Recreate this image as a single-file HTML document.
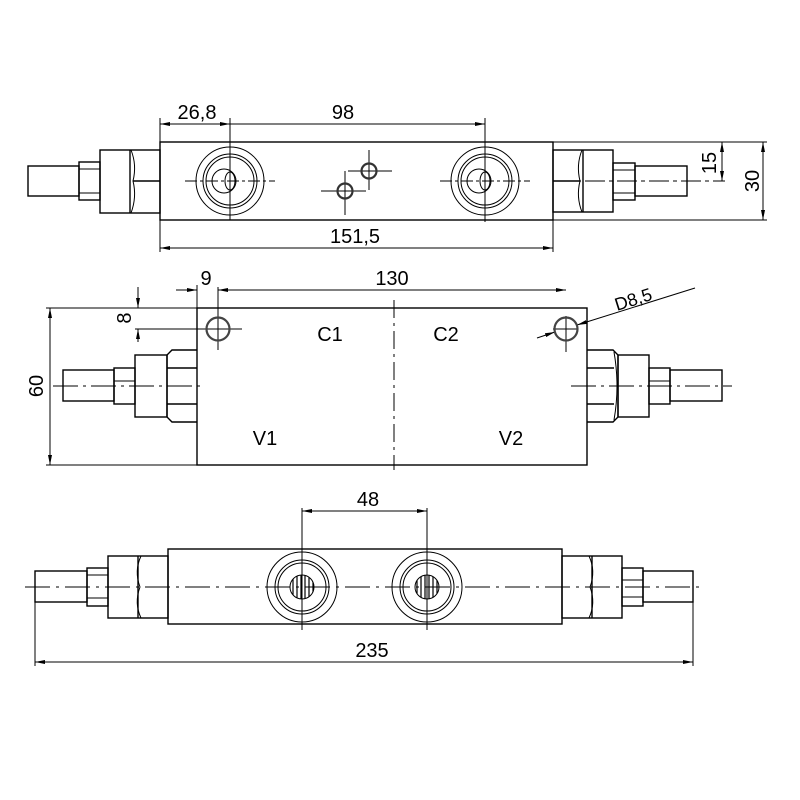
<!DOCTYPE html>
<html><head><meta charset="utf-8"><style>html,body{margin:0;padding:0;background:#fff}svg{display:block}text{font-family:"Liberation Sans",sans-serif;fill:#000}</style></head>
<body>
<svg width="800" height="800" viewBox="0 0 800 800" xmlns="http://www.w3.org/2000/svg">
<defs>
<marker id="a" viewBox="0 0 10 4" refX="10" refY="2" markerWidth="10" markerHeight="4" orient="auto-start-reverse" markerUnits="userSpaceOnUse"><path d="M0,0L10,2L0,4z" fill="#000"/></marker>
<pattern id="h" width="4" height="4" patternUnits="userSpaceOnUse"><rect width="4" height="4" fill="#fff"/><line x1="1" y1="0" x2="1" y2="4" stroke="#000" stroke-width="1.2"/></pattern>
</defs>
<g fill="none" stroke="#000" stroke-width="1.4">
<!-- TOP VIEW -->
<rect x="160" y="142" width="393" height="78"/>
<rect x="100" y="150" width="60" height="63"/>
<line x1="130" y1="150" x2="130" y2="213"/>
<path d="M131,150 Q137,165 133,181 Q137,197 131,213" stroke-width="1"/>
<line x1="133" y1="181" x2="160" y2="181"/>
<rect x="79" y="162" width="21" height="38"/>
<line x1="79" y1="169" x2="100" y2="169" stroke-width="1"/><line x1="79" y1="193" x2="100" y2="193" stroke-width="1"/>
<rect x="28" y="166" width="51" height="30"/>
<rect x="553" y="150" width="60" height="62"/>
<line x1="583" y1="150" x2="583" y2="212"/>
<path d="M582,150 Q576,165 580,181 Q576,197 582,212" stroke-width="1"/>
<line x1="553" y1="181" x2="580" y2="181"/>
<rect x="613" y="163" width="22" height="37"/>
<line x1="613" y1="170" x2="635" y2="170" stroke-width="1"/><line x1="613" y1="193" x2="635" y2="193" stroke-width="1"/>
<rect x="635" y="166" width="52" height="30"/>
<g stroke-width="1">
<circle cx="230" cy="181" r="34"/><circle cx="230" cy="181" r="27"/><circle cx="230" cy="181" r="24"/>
<circle cx="224" cy="181" r="12"/><ellipse cx="230" cy="181" rx="5" ry="9"/>
<circle cx="485" cy="181" r="34"/><circle cx="485" cy="181" r="27"/><circle cx="485" cy="181" r="24"/>
<circle cx="479" cy="181" r="12"/><ellipse cx="485" cy="181" rx="5" ry="9"/>
<line x1="185" y1="181" x2="275" y2="181" stroke-dasharray="12,3,3,3"/>
<line x1="440" y1="181" x2="530" y2="181" stroke-dasharray="12,3,3,3"/>
<line x1="230" y1="118" x2="230" y2="220"/>
<line x1="485" y1="118" x2="485" y2="222"/>
<line x1="553" y1="181" x2="725" y2="181" stroke-dasharray="20,4,4,4"/>
<line x1="321" y1="191" x2="366" y2="191"/><line x1="345" y1="171" x2="345" y2="215"/>
<line x1="348" y1="171" x2="392" y2="171"/><line x1="369" y1="150" x2="369" y2="190"/>
<line x1="160" y1="118" x2="160" y2="252"/>
<line x1="553" y1="220" x2="553" y2="252"/>
<line x1="553" y1="142" x2="767" y2="142"/><line x1="553" y1="220" x2="767" y2="220"/>
<line x1="160" y1="124" x2="230" y2="124" marker-start="url(#a)" marker-end="url(#a)"/>
<line x1="230" y1="124" x2="485" y2="124" marker-end="url(#a)"/>
<line x1="160" y1="248" x2="553" y2="248" marker-start="url(#a)" marker-end="url(#a)"/>
<line x1="722" y1="142" x2="722" y2="181" marker-start="url(#a)" marker-end="url(#a)"/>
<line x1="763" y1="142" x2="763" y2="220" marker-start="url(#a)" marker-end="url(#a)"/>
</g>
<circle cx="345" cy="191" r="7.5" stroke-width="2.2" stroke="#333"/>
<circle cx="369" cy="171" r="7.5" stroke-width="2.2" stroke="#333"/>

<!-- MIDDLE VIEW -->
<rect x="197" y="308" width="390" height="157"/>
<line x1="46" y1="308" x2="197" y2="308" stroke-width="1"/><line x1="46" y1="465" x2="197" y2="465" stroke-width="1"/>
<path d="M197,350 L172,350 L167,355 L167,417 L172,422 L197,422"/>
<line x1="167" y1="368" x2="197" y2="368"/><line x1="167" y1="404" x2="197" y2="404"/>
<rect x="135" y="355" width="32" height="62"/>
<rect x="114" y="368" width="21" height="36"/><line x1="114" y1="381" x2="135" y2="381" stroke-width="1"/>
<rect x="63" y="370" width="51" height="31"/>
<path d="M587,350 L613,350 L618,355 L618,417 L613,422 L587,422"/>
<line x1="587" y1="368" x2="614" y2="368"/><line x1="587" y1="404" x2="614" y2="404"/>
<path d="M614,352 Q620,386 614,420" stroke-width="1"/>
<rect x="618" y="355" width="31" height="62"/>
<rect x="649" y="368" width="21" height="36"/><line x1="649" y1="381" x2="670" y2="381" stroke-width="1"/>
<rect x="670" y="370" width="52" height="31"/>
<g stroke-width="1">
<line x1="53" y1="386" x2="203" y2="386" stroke-dasharray="25,5,3,5"/>
<line x1="571" y1="386" x2="732" y2="386" stroke-dasharray="25,5,3,5"/>
<line x1="394" y1="300" x2="394" y2="470" stroke-dasharray="18,5,3,5"/>
<line x1="218" y1="287" x2="218" y2="350"/><line x1="135" y1="329" x2="242" y2="329"/>
<line x1="566" y1="316" x2="566" y2="352"/><line x1="553" y1="329" x2="577" y2="329"/>
<line x1="197" y1="285" x2="197" y2="308"/>
<line x1="176" y1="290" x2="197" y2="290" marker-end="url(#a)"/>
<line x1="240" y1="290" x2="218" y2="290" marker-end="url(#a)"/>
<line x1="218" y1="290" x2="566" y2="290" marker-end="url(#a)"/>
<line x1="138" y1="287" x2="138" y2="308" marker-end="url(#a)"/>
<line x1="138" y1="342" x2="138" y2="329" marker-end="url(#a)"/>
<line x1="50" y1="308" x2="50" y2="465" marker-start="url(#a)" marker-end="url(#a)"/>
<line x1="695" y1="288" x2="577" y2="325" marker-end="url(#a)"/>
<line x1="537" y1="338" x2="555" y2="332" marker-end="url(#a)"/>
</g>
<circle cx="218" cy="329" r="11.5" stroke-width="2.2" stroke="#444"/>
<circle cx="566" cy="329" r="11.5" stroke-width="2.2" stroke="#444"/>

<!-- BOTTOM VIEW -->
<rect x="168" y="549" width="394" height="75"/>
<rect x="108" y="556" width="60" height="62"/>
<line x1="138" y1="556" x2="138" y2="618"/>
<path d="M141,556 Q134,571 140,587 Q134,603 141,618" stroke-width="1"/>
<rect x="87" y="568" width="21" height="38"/>
<line x1="87" y1="575" x2="108" y2="575" stroke-width="1"/><line x1="87" y1="598" x2="108" y2="598" stroke-width="1"/>
<rect x="35" y="571" width="52" height="31"/>
<rect x="562" y="556" width="60" height="62"/>
<line x1="592" y1="556" x2="592" y2="618"/>
<path d="M589,556 Q596,571 590,587 Q596,603 589,618" stroke-width="1"/>
<rect x="622" y="568" width="21" height="38"/>
<line x1="622" y1="580" x2="643" y2="580" stroke-width="1"/><line x1="622" y1="597" x2="643" y2="597" stroke-width="1"/>
<rect x="643" y="571" width="50" height="31"/>
<g stroke-width="1">
<circle cx="302" cy="587" r="35"/><circle cx="302" cy="587" r="27"/><circle cx="302" cy="587" r="24"/>
<circle cx="302" cy="587" r="12" fill="url(#h)"/>
<circle cx="427" cy="587" r="35"/><circle cx="427" cy="587" r="27"/><circle cx="427" cy="587" r="24"/>
<circle cx="427" cy="587" r="12" fill="url(#h)"/>
<line x1="25" y1="587" x2="703" y2="587" stroke-dasharray="25,6,3,6"/>
<line x1="302" y1="508" x2="302" y2="630"/><line x1="427" y1="508" x2="427" y2="630"/>
<line x1="302" y1="511" x2="427" y2="511" marker-start="url(#a)" marker-end="url(#a)"/>
<line x1="35" y1="571" x2="35" y2="666"/><line x1="693" y1="571" x2="693" y2="666"/>
<line x1="35" y1="662" x2="693" y2="662" marker-start="url(#a)" marker-end="url(#a)"/>
</g>
</g>
<g font-size="20">
<text x="197" y="119" text-anchor="middle">26,8</text>
<text x="343" y="119" text-anchor="middle">98</text>
<text x="355" y="243" text-anchor="middle">151,5</text>
<text transform="translate(716,163) rotate(-90)" text-anchor="middle">15</text>
<text transform="translate(759,181) rotate(-90)" text-anchor="middle">30</text>
<text x="206" y="285" text-anchor="middle">9</text>
<text x="392" y="285" text-anchor="middle">130</text>
<text transform="translate(131,318) rotate(-90)" text-anchor="middle">8</text>
<text transform="translate(43,386) rotate(-90)" text-anchor="middle">60</text>
<text transform="translate(617,311) rotate(-17.6)" font-size="18">D8,5</text>
<text x="330" y="341" text-anchor="middle">C1</text>
<text x="446" y="341" text-anchor="middle">C2</text>
<text x="265" y="445" text-anchor="middle">V1</text>
<text x="511" y="445" text-anchor="middle">V2</text>
<text x="368" y="506" text-anchor="middle">48</text>
<text x="372" y="657" text-anchor="middle">235</text>
</g>
</svg>
</body></html>
